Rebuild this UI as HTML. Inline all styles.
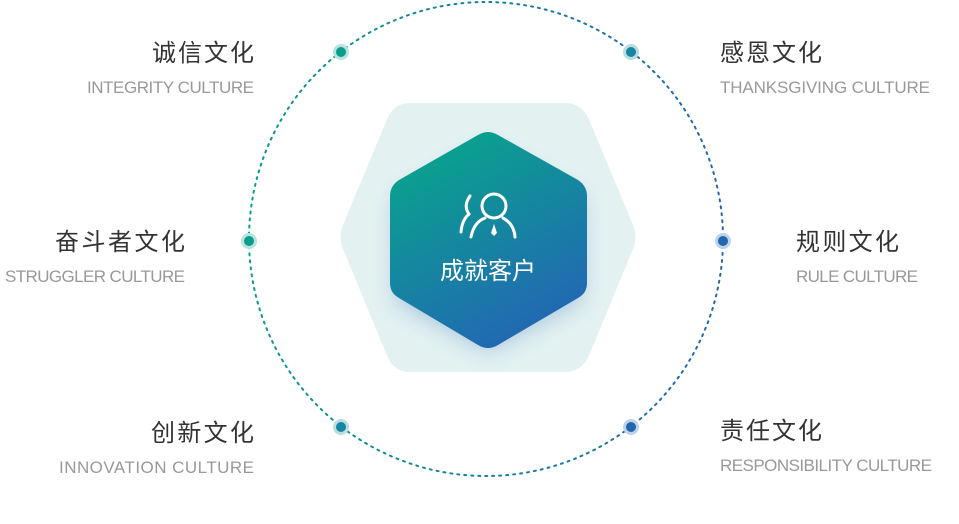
<!DOCTYPE html>
<html><head><meta charset="utf-8"><style>
body{margin:0;background:#fff;width:959px;height:524px;overflow:hidden}
svg{display:block}
.t{font-family:"Liberation Sans","Noto Sans CJK SC",sans-serif;font-size:24px;fill:#333}
.e{font-family:"Liberation Sans",sans-serif;font-size:17px;fill:#999}
</style></head><body>
<svg width="959" height="524" viewBox="0 0 959 524">
<defs>
<linearGradient id="g" x1="0.25" y1="0" x2="0.75" y2="1">
<stop offset="0" stop-color="#08a58c"/><stop offset="1" stop-color="#2463b6"/>
</linearGradient>
<linearGradient id="cg" x1="0" y1="0" x2="1" y2="0">
<stop offset="0" stop-color="#0a9b8e"/><stop offset="1" stop-color="#2466ad"/>
</linearGradient>
<filter id="sh" x="-30%" y="-30%" width="160%" height="160%"><feGaussianBlur stdDeviation="12"/></filter>
</defs>
<circle cx="486" cy="239" r="237" fill="none" stroke="url(#cg)" stroke-width="2" stroke-dasharray="2 5" stroke-linecap="round"/>
<path d="M410 103 L565 103 Q580 103 588 117 L633 225 Q638 237 633 249 L588 358 Q580 372 565 372 L410 372 Q395 372 388 358 L343 249 Q338 237 343 225 L388 117 Q395 103 410 103 Z" fill="#e3f1f1"/>
<path d="M488 140 L580 190 L580 290 L488 340 L397 290 L397 190 Z" fill="#2b67b8" opacity="0.35" filter="url(#sh)" transform="translate(0,10)"/>
<path d="M478 135 Q488 129 498 135 L578 180 Q587 186 587 196 L587 283 Q587 293 578 298 L498 345 Q488 351 478 345 L399 298 Q390 293 390 283 L390 196 Q390 186 399 180 Z" fill="url(#g)"/>
<g fill="none" stroke="#fff" stroke-width="3" stroke-linecap="round">
<circle cx="494" cy="206" r="12"/>
<path d="M471 237 Q474 222 485 218"/>
<path d="M503 218 Q514 224 515 237"/>
<path d="M470 196 Q463 206 469 214"/>
<path d="M469 214 Q462 220 461 232"/>
</g>
<path d="M494 224 L497 233 L494 236 L491 233 Z" fill="#fff"/>
<text x="488" y="279" text-anchor="middle" style="font-family:'Liberation Sans','Noto Sans CJK SC',sans-serif;font-size:24px;fill:#fff">成就客户</text>
<g>
<circle cx="341" cy="52" r="8" fill="#b7e3dd"/><circle cx="341" cy="52" r="5" fill="#0a9c8c"/>
<circle cx="631" cy="52" r="8" fill="#b9dde0"/><circle cx="631" cy="52" r="5" fill="#1786a0"/>
<circle cx="249" cy="241" r="8" fill="#b7e3dd"/><circle cx="249" cy="241" r="5" fill="#0a9c8c"/>
<circle cx="723" cy="241" r="8" fill="#bcd3ea"/><circle cx="723" cy="241" r="5" fill="#2466ad"/>
<circle cx="341" cy="427" r="8" fill="#b9dde0"/><circle cx="341" cy="427" r="5" fill="#1488a0"/>
<circle cx="631" cy="427" r="8" fill="#bcd3ea"/><circle cx="631" cy="427" r="5" fill="#2466ad"/>
</g>
<text class="t" x="152" y="61" textLength="102">诚信文化</text>
<text class="e" x="87" y="93" textLength="167">INTEGRITY CULTURE</text>
<text class="t" x="55" y="250" textLength="130">奋斗者文化</text>
<text class="e" x="5" y="282" textLength="180">STRUGGLER CULTURE</text>
<text class="t" x="151" y="441" textLength="103">创新文化</text>
<text class="e" x="59" y="473" textLength="195">INNOVATION CULTURE</text>
<text class="t" x="720" y="61" textLength="102">感恩文化</text>
<text class="e" x="720" y="93" textLength="210">THANKSGIVING CULTURE</text>
<text class="t" x="796" y="250" textLength="103">规则文化</text>
<text class="e" x="796" y="282" textLength="122">RULE CULTURE</text>
<text class="t" x="720" y="439" textLength="102">责任文化</text>
<text class="e" x="720" y="471" textLength="212">RESPONSIBILITY CULTURE</text>
</svg>
</body></html>
